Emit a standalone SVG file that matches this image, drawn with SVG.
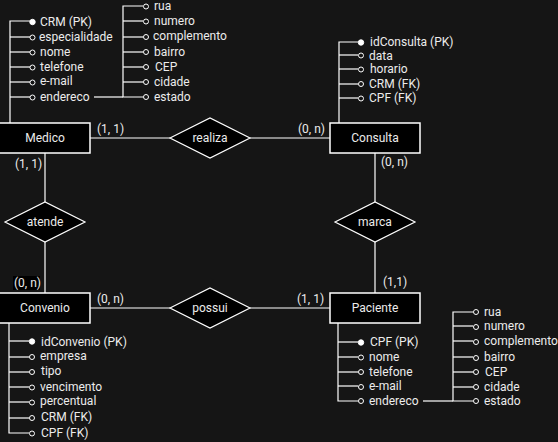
<svg xmlns="http://www.w3.org/2000/svg" width="558" height="442" viewBox="0 0 558 442">
<defs>
<style>
text{font-family:Roboto,"Liberation Sans",sans-serif;font-size:12px;fill:#ececec}
.ent rect{fill:#000;stroke:#fff;stroke-width:1.5}
.rel polygon{fill:#000;stroke:#fff;stroke-width:1.2}
.c{text-anchor:middle}
line,polyline{stroke:#fff;stroke-width:1.2;fill:none}
.pk{fill:#fff;stroke:#fff;stroke-width:1}
.at{fill:#151515;stroke:#fff;stroke-width:1}
</style>
</defs>
<rect width="558" height="442" fill="#151515"/>
<g id="connectors">
<line x1="90" y1="138" x2="170" y2="138"/>
<line x1="250" y1="138" x2="330" y2="138"/>
<line x1="45" y1="153" x2="45" y2="202"/>
<line x1="45" y1="242" x2="45" y2="293"/>
<line x1="375" y1="153" x2="375" y2="202"/>
<line x1="375" y1="242" x2="375" y2="293"/>
<line x1="90" y1="308" x2="170" y2="308"/>
<line x1="250" y1="308" x2="330" y2="308"/>
<text x="97" y="133">(1, 1)</text>
<text x="298" y="133">(0, n)</text>
<text x="15" y="168">(1, 1)</text>
<rect x="13" y="276" width="27" height="14" fill="#000"/>
<text x="14" y="287">(0, n)</text>
<text x="381" y="166">(0, n)</text>
<text x="383" y="286">(1,1)</text>
<text x="97" y="303">(0, n)</text>
<text x="297" y="303">(1, 1)</text>
</g>
<g id="medico" class="ent">
<rect x="-1" y="123" width="91" height="30"/>
<text class="c" x="45" y="142">Medico</text>
</g>
<g id="medico-attrs">
<polyline points="30,21 10,21 10,123"/>
<line x1="10" y1="37" x2="30" y2="37"/>
<line x1="10" y1="52" x2="30" y2="52"/>
<line x1="10" y1="67" x2="30" y2="67"/>
<line x1="10" y1="82" x2="30" y2="82"/>
<line x1="10" y1="97" x2="30" y2="97"/>
<circle class="pk" cx="32.5" cy="22" r="2.7"/>
<circle class="at" cx="32.5" cy="37.5" r="2.5"/>
<circle class="at" cx="32.5" cy="52.5" r="2.5"/>
<circle class="at" cx="32.5" cy="67.5" r="2.5"/>
<circle class="at" cx="32.5" cy="82.5" r="2.5"/>
<circle class="at" cx="32.5" cy="97.5" r="2.5"/>
<text x="40" y="26">CRM (PK)</text>
<text x="39" y="41">especialidade</text>
<text x="40" y="56">nome</text>
<text x="40" y="71">telefone</text>
<text x="40" y="85">e-mail</text>
<text x="40" y="101">endereco</text>
<line x1="94" y1="97" x2="123" y2="97"/>
<polyline points="143,6 123,6 123,97 143,97"/>
<line x1="123" y1="21" x2="143" y2="21"/>
<line x1="123" y1="37" x2="143" y2="37"/>
<line x1="123" y1="52" x2="143" y2="52"/>
<line x1="123" y1="67" x2="143" y2="67"/>
<line x1="123" y1="82" x2="143" y2="82"/>
<circle class="at" cx="146" cy="6.5" r="2.5"/>
<circle class="at" cx="146" cy="21.5" r="2.5"/>
<circle class="at" cx="146" cy="37" r="2.5"/>
<circle class="at" cx="146" cy="52" r="2.5"/>
<circle class="at" cx="146" cy="67" r="2.5"/>
<circle class="at" cx="146" cy="82" r="2.5"/>
<circle class="at" cx="146" cy="97" r="2.5"/>
<text x="154" y="10">rua</text>
<text x="154" y="25">numero</text>
<text x="153" y="40">complemento</text>
<text x="154" y="56">bairro</text>
<text x="155" y="71">CEP</text>
<text x="154" y="86">cidade</text>
<text x="154" y="101">estado</text>
</g>
<g id="consulta" class="ent">
<rect x="330" y="123" width="90" height="30"/>
<text class="c" x="375" y="142">Consulta</text>
</g>
<g id="consulta-attrs">
<polyline points="358,42 339,42 339,123"/>
<line x1="339" y1="55" x2="358" y2="55"/>
<line x1="339" y1="69" x2="358" y2="69"/>
<line x1="339" y1="84" x2="358" y2="84"/>
<line x1="339" y1="98" x2="358" y2="98"/>
<circle class="pk" cx="361" cy="42.5" r="2.7"/>
<circle class="at" cx="361" cy="55.5" r="2.5"/>
<circle class="at" cx="361" cy="69.5" r="2.5"/>
<circle class="at" cx="361" cy="84" r="2.5"/>
<circle class="at" cx="361" cy="98.5" r="2.5"/>
<text x="370" y="46">idConsulta (PK)</text>
<text x="369" y="59.5">data</text>
<text x="370" y="73">horario</text>
<text x="369" y="88">CRM (FK)</text>
<text x="369" y="102">CPF (FK)</text>
</g>
<g id="convenio" class="ent">
<rect x="-1" y="293" width="91" height="30"/>
<text class="c" x="45" y="312">Convenio</text>
</g>
<g id="convenio-attrs">
<polyline points="9,323 9,433 29,433"/>
<line x1="9" y1="341" x2="29" y2="341"/>
<line x1="9" y1="357" x2="29" y2="357"/>
<line x1="9" y1="372" x2="29" y2="372"/>
<line x1="9" y1="387" x2="29" y2="387"/>
<line x1="9" y1="402" x2="29" y2="402"/>
<line x1="9" y1="418" x2="29" y2="418"/>
<circle class="pk" cx="32" cy="341.5" r="2.7"/>
<circle class="at" cx="32" cy="357" r="2.5"/>
<circle class="at" cx="32" cy="372" r="2.5"/>
<circle class="at" cx="32" cy="387.5" r="2.5"/>
<circle class="at" cx="32" cy="402.5" r="2.5"/>
<circle class="at" cx="32" cy="418" r="2.5"/>
<circle class="at" cx="32" cy="433.5" r="2.5"/>
<text x="41" y="346">idConvenio (PK)</text>
<text x="40" y="360">empresa</text>
<text x="41" y="375">tipo</text>
<text x="40" y="391">vencimento</text>
<text x="40" y="405">percentual</text>
<text x="41" y="421">CRM (FK)</text>
<text x="41" y="437">CPF (FK)</text>
</g>
<g id="paciente" class="ent">
<rect x="330" y="293" width="90" height="30"/>
<text class="c" x="375" y="312">Paciente</text>
</g>
<g id="paciente-attrs">
<polyline points="338,323 338,401 358,401"/>
<line x1="338" y1="342" x2="358" y2="342"/>
<line x1="338" y1="357" x2="358" y2="357"/>
<line x1="338" y1="372" x2="358" y2="372"/>
<line x1="338" y1="386" x2="358" y2="386"/>
<circle class="pk" cx="361" cy="342.5" r="2.7"/>
<circle class="at" cx="361" cy="357.5" r="2.5"/>
<circle class="at" cx="361" cy="372" r="2.5"/>
<circle class="at" cx="361" cy="387" r="2.5"/>
<circle class="at" cx="361" cy="401" r="2.5"/>
<text x="370" y="346">CPF (PK)</text>
<text x="369" y="361">nome</text>
<text x="369" y="376">telefone</text>
<text x="369" y="390">e-mail</text>
<text x="369" y="405">endereco</text>
<line x1="423" y1="401" x2="453" y2="401"/>
<polyline points="473,312 453,312 453,401 473,401"/>
<line x1="453" y1="326" x2="473" y2="326"/>
<line x1="453" y1="341" x2="473" y2="341"/>
<line x1="453" y1="357" x2="473" y2="357"/>
<line x1="453" y1="372" x2="473" y2="372"/>
<line x1="453" y1="387" x2="473" y2="387"/>
<circle class="at" cx="476" cy="312" r="2.5"/>
<circle class="at" cx="476" cy="327" r="2.5"/>
<circle class="at" cx="476" cy="342" r="2.5"/>
<circle class="at" cx="476" cy="358" r="2.5"/>
<circle class="at" cx="476" cy="372" r="2.5"/>
<circle class="at" cx="476" cy="387" r="2.5"/>
<circle class="at" cx="476" cy="401" r="2.5"/>
<text x="484" y="316">rua</text>
<text x="484" y="330">numero</text>
<text x="484" y="345">complemento</text>
<text x="484" y="361">bairro</text>
<text x="485" y="376">CEP</text>
<text x="484" y="391">cidade</text>
<text x="484" y="405">estado</text>
</g>
<g id="realiza" class="rel">
<polygon points="170,138 210,118 250,138 210,158"/>
<text class="c" x="210" y="142">realiza</text>
</g>
<g id="atende" class="rel">
<polygon points="5,222 45,202 85,222 45,242"/>
<text class="c" x="45" y="226">atende</text>
</g>
<g id="marca" class="rel">
<polygon points="335,222 375,202 415,222 375,242"/>
<text class="c" x="375" y="226">marca</text>
</g>
<g id="possui" class="rel">
<polygon points="170,308 210,288 250,308 210,328"/>
<text class="c" x="210" y="312">possui</text>
</g>
</svg>
